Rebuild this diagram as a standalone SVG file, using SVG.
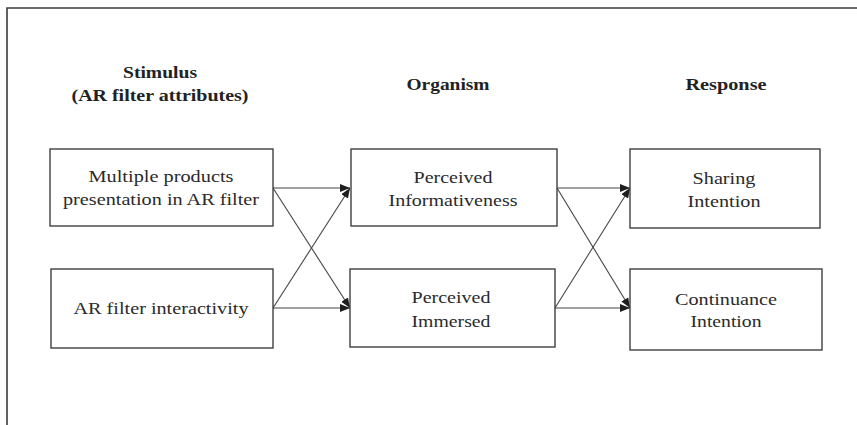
<svg xmlns="http://www.w3.org/2000/svg" width="857" height="425" viewBox="0 0 857 425">
  <style>
    .frame { fill: none; stroke: #3a3a3a; stroke-width: 1.6; }
    .box { fill: #ffffff; stroke: #3f3f3f; stroke-width: 1.4; }
    .lbl { font-family: "Liberation Serif", "Times New Roman", serif; font-size: 17px; fill: #2a2a2a; text-anchor: middle; }
    .hdr { font-family: "Liberation Serif", "Times New Roman", serif; font-size: 16.5px; font-weight: bold; fill: #222; text-anchor: middle; }
    .edge { fill: none; stroke: #454545; stroke-width: 1.1; marker-end: url(#arrow); }
  </style>
  <defs>
    <marker id="arrow" viewBox="0 0 10 10" refX="10" refY="5" markerWidth="10" markerHeight="10" markerUnits="userSpaceOnUse" orient="auto">
      <path d="M0,1 L10,5 L0,9 Z" fill="#1e1e1e"/>
    </marker>
  </defs>

  <rect width="857" height="425" fill="#ffffff"/>
  <!-- outer frame, open to the right and bottom -->
  <path class="frame" d="M7,440 L7,8 L870,8"/>

  <!-- column headings -->
  <g id="headings">
    <text class="hdr" x="160" y="78" textLength="74" lengthAdjust="spacingAndGlyphs">Stimulus</text>
    <text class="hdr" x="160" y="101" textLength="177" lengthAdjust="spacingAndGlyphs">(AR filter attributes)</text>
    <text class="hdr" x="448" y="90" textLength="83" lengthAdjust="spacingAndGlyphs">Organism</text>
    <text class="hdr" x="726" y="90" textLength="81" lengthAdjust="spacingAndGlyphs">Response</text>
  </g>

  <!-- connectors -->
  <g id="connectors">
    <line class="edge" x1="273" y1="188" x2="350" y2="188"/>
    <line class="edge" x1="273" y1="188" x2="350" y2="308"/>
    <line class="edge" x1="273" y1="308" x2="350" y2="188"/>
    <line class="edge" x1="273" y1="308" x2="350" y2="308"/>
    <line class="edge" x1="557" y1="188" x2="630" y2="188"/>
    <line class="edge" x1="557" y1="188" x2="630" y2="308"/>
    <line class="edge" x1="555" y1="308" x2="630" y2="188"/>
    <line class="edge" x1="555" y1="308" x2="630" y2="308"/>
  </g>

  <g id="multiple-products">
    <rect class="box" x="50" y="149" width="223" height="77"/>
    <text class="lbl" x="161" y="182" textLength="145" lengthAdjust="spacingAndGlyphs">Multiple products</text>
    <text class="lbl" x="161" y="205" textLength="196" lengthAdjust="spacingAndGlyphs">presentation in AR filter</text>
  </g>

  <g id="ar-interactivity">
    <rect class="box" x="51" y="269" width="222" height="79"/>
    <text class="lbl" x="161" y="314" textLength="175" lengthAdjust="spacingAndGlyphs">AR filter interactivity</text>
  </g>

  <g id="perceived-informativeness">
    <rect class="box" x="351" y="149" width="206" height="77"/>
    <text class="lbl" x="453" y="183" textLength="79" lengthAdjust="spacingAndGlyphs">Perceived</text>
    <text class="lbl" x="453" y="206" textLength="129" lengthAdjust="spacingAndGlyphs">Informativeness</text>
  </g>

  <g id="perceived-immersed">
    <rect class="box" x="350" y="269" width="205" height="78"/>
    <text class="lbl" x="451" y="303" textLength="79" lengthAdjust="spacingAndGlyphs">Perceived</text>
    <text class="lbl" x="451" y="327" textLength="79" lengthAdjust="spacingAndGlyphs">Immersed</text>
  </g>

  <g id="sharing-intention">
    <rect class="box" x="630" y="149" width="190" height="79"/>
    <text class="lbl" x="724" y="184" textLength="63" lengthAdjust="spacingAndGlyphs">Sharing</text>
    <text class="lbl" x="724" y="207" textLength="73" lengthAdjust="spacingAndGlyphs">Intention</text>
  </g>

  <g id="continuance-intention">
    <rect class="box" x="630" y="269" width="192" height="81"/>
    <text class="lbl" x="726" y="305" textLength="102" lengthAdjust="spacingAndGlyphs">Continuance</text>
    <text class="lbl" x="726" y="327" textLength="71" lengthAdjust="spacingAndGlyphs">Intention</text>
  </g>
</svg>
